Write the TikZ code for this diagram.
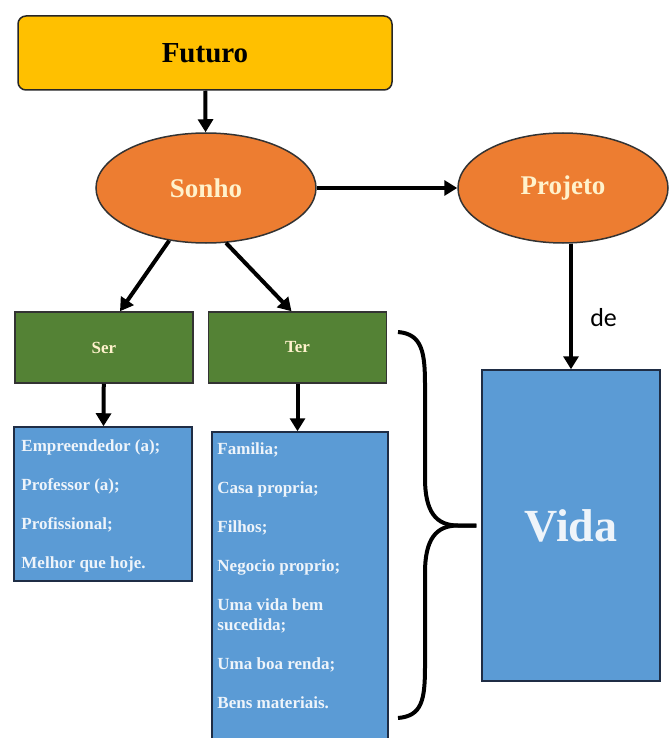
\documentclass[tikz,border=0pt]{standalone}
\usepackage{fontspec}
\setmainfont{Liberation Serif}
\newfontfamily\calibri{Carlito}
\usetikzlibrary{shapes,arrows,arrows.meta,positioning,calc}
\definecolor{futurocol}{HTML}{FFC000}
\definecolor{sonhocol}{HTML}{ED7D31}
\definecolor{sercol}{HTML}{548235}
\definecolor{vidacol}{HTML}{5B9BD5}
\definecolor{navy}{HTML}{1F2D45}
\definecolor{cream}{HTML}{FFF2CC}
\definecolor{pale}{HTML}{EEF4FA}

\begin{document}
\begin{tikzpicture}[x=1pt,y=-1pt,
    seta/.style={line width=4pt,-{Triangle[length=13pt,width=15pt]}},
    oval/.style={ellipse,draw=black!80,line width=1.5pt,fill=sonhocol,text=cream,font=\fontsize{27}{27}\selectfont\bfseries},
    verde/.style={draw=black!80,line width=1.5pt,fill=sercol,text=cream,minimum width=178pt,minimum height=71pt,font=\fontsize{17}{17}\selectfont\bfseries},
    azul/.style={draw=navy,line width=1.5pt,fill=vidacol},
    lista/.style={anchor=north west,align=left,inner sep=0pt,text=pale,font=\fontsize{17}{20}\selectfont\bfseries}]
      \useasboundingbox (0,0) rectangle (671,738);
      \node[draw=black!85,line width=1.5pt,fill=futurocol,rounded corners=8pt,minimum width=374pt,minimum height=74pt,font=\fontsize{29}{29}\selectfont\bfseries](futuro) at (205,53){Futuro};
      \node[oval,minimum width=220pt,minimum height=110pt](sonho) at (206,188){Sonho};
      \node[oval,minimum width=210pt,minimum height=110pt](projeto) at (563,188){Projeto};
      \node[verde](ser) at (104,347.5){Ser};
      \node[verde](ter) at (297.5,347.5){Ter};
      \node[azul,minimum width=178pt,minimum height=154pt](serlist) at (103,504){};
      \node[azul,minimum width=176pt,minimum height=330pt](terlist) at (300,597){};
      \node[azul,minimum width=178pt,minimum height=311pt,text=pale,font=\fontsize{46}{46}\selectfont\bfseries](vida) at (571,525.5){Vida};

      \node[lista](sertxt) at ([xshift=8pt,yshift=-13pt]serlist.north west){Empreendedor (a);\\[19pt]Professor (a);\\[19pt]Profissional;\\[19pt]Melhor que hoje.};
      \node[lista](tertxt) at ([xshift=6pt,yshift=-11pt]terlist.north west){Familia;\\[19pt]Casa propria;\\[19pt]Filhos;\\[19pt]Negocio proprio;\\[19pt]Uma vida bem\\sucedida;\\[19pt]Uma boa renda;\\[19pt]Bens materiais.};

      \draw[seta] (futuro) -- (sonho);
      \draw[seta] (sonho) -- (projeto);
      \draw[seta] (sonho.235) -- ([xshift=16pt]ser.north);
      \draw[seta] (sonho.290) -- ([xshift=-6pt]ter.north);
      \draw[seta] (ser) -- (serlist);
      \draw[seta] (ter.south) -- (ter.south |- terlist.north);
      \draw[seta] (vida.north |- projeto.south) -- (vida.north) node[pos=0.59,right=14pt,font=\calibri\fontsize{26}{26}\selectfont]{de};

      % chave
      \draw[line width=4pt] (398,332) .. controls (422,334) and (425,352) .. (425,385) -- (425,478) .. controls (425,512) and (436,525.5) .. (458,525.5) -- ([xshift=-5pt]vida.west);
      \draw[line width=4pt] ([xshift=-5pt]vida.west) -- (458,525.5) .. controls (436,525.5) and (425,539) .. (425,573) -- (425,666) .. controls (425,700) and (422,716) .. (398,718);
\end{tikzpicture}
\end{document}
